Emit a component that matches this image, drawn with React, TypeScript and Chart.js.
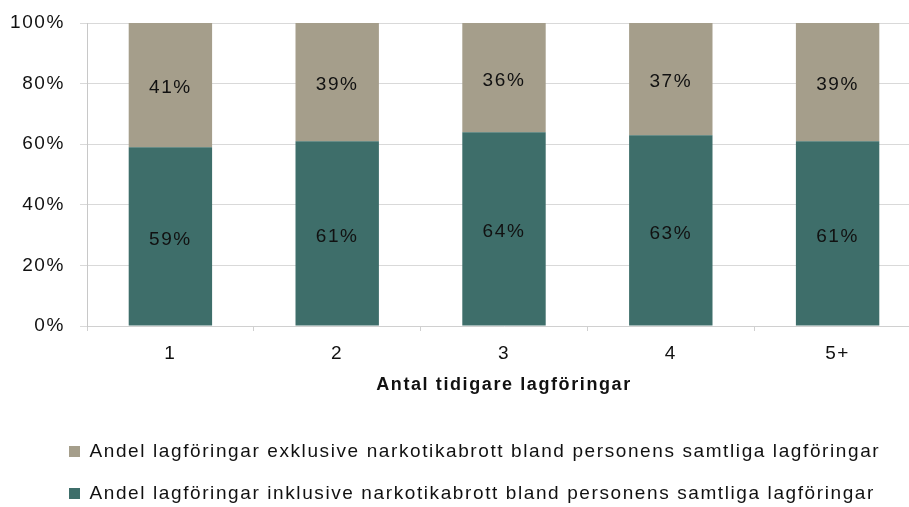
import React, { useEffect, useRef } from 'react';
import { Chart, registerables } from 'chart.js';

Chart.register(...registerables);

const categories = ['1', '2', '3', '4', '5+'];
const inklusiveValues = [59, 61, 64, 63, 61];
const exklusiveValues = [41, 39, 36, 37, 39];
const inklusiveLabel = 'Andel lagföringar inklusive narkotikabrott bland personens samtliga lagföringar';
const exklusiveLabel = 'Andel lagföringar exklusive narkotikabrott bland personens samtliga lagföringar';
const xAxisTitle = 'Antal tidigare lagföringar';

const FONT = "Arial, 'Liberation Sans', sans-serif";
const TEAL = '#3e6e6a';
const GRAY = '#a59e8b';
const TEXT = '#111111';
const SPACING = '1.6px';

const spacingPlugin = {
  id: 'letterSpacing',
  beforeUpdate(chart: any) { chart.ctx.letterSpacing = SPACING; },
  beforeLayout(chart: any) { chart.ctx.letterSpacing = SPACING; },
  afterLayout(chart: any) {
    // let the y tick labels use the space to the left of the axis box
    const y = chart.scales.y;
    if (y) y.left = 0;
  },
  beforeDraw(chart: any) { chart.ctx.letterSpacing = SPACING; },
};

const valueLabelPlugin = {
  id: 'valueLabels',
  afterDatasetsDraw(chart: any) {
    const ctx = chart.ctx;
    ctx.save();
    ctx.font = `19px ${FONT}`;
    ctx.fillStyle = TEXT;
    ctx.textAlign = 'center';
    ctx.textBaseline = 'middle';
    chart.data.datasets.forEach((ds: any, i: number) => {
      const meta = chart.getDatasetMeta(i);
      meta.data.forEach((bar: any, j: number) => {
        const p = bar.getProps(['x', 'y', 'base'], true);
        ctx.fillText(`${ds.data[j]}%`, p.x, (p.y + p.base) / 2 + 3);
      });
    });
    ctx.restore();
  },
};

export default function App() {
  const ref = useRef<HTMLCanvasElement | null>(null);

  useEffect(() => {
    if (!ref.current) return;
    const chart = new Chart(ref.current, {
      type: 'bar',
      data: {
        labels: categories,
        datasets: [
          {
            label: inklusiveLabel,
            data: inklusiveValues,
            backgroundColor: TEAL,
            borderWidth: 0,
            barPercentage: 0.5,
            categoryPercentage: 1,
          },
          {
            label: exklusiveLabel,
            data: exklusiveValues,
            backgroundColor: GRAY,
            borderWidth: 0,
            barPercentage: 0.5,
            categoryPercentage: 1,
          },
        ],
      },
      options: {
        responsive: false,
        animation: false,
        devicePixelRatio: 1,
        layout: { padding: { left: 46, right: 4, top: 20, bottom: 0 } },
        plugins: {
          tooltip: { enabled: false },
          legend: {
            position: 'bottom',
            align: 'start',
            reverse: true,
            labels: {
              boxWidth: 11,
              boxHeight: 11,
              padding: 23,
              color: TEXT,
              font: { family: FONT, size: 19 },
            },
          },
        },
        scales: {
          x: {
            stacked: true,
            afterFit: (s: any) => { s.height = 93; },
            grid: {
              display: true,
              drawOnChartArea: false,
              drawTicks: true,
              tickLength: 5,
              color: '#d0d0d0',
              offset: true,
            },
            border: { color: '#d0d0d0', width: 1 },
            ticks: { color: TEXT, font: { family: FONT, size: 19 }, padding: 11 },
            title: {
              display: true,
              text: xAxisTitle,
              color: TEXT,
              font: { family: FONT, size: 18, weight: 'bold' },
              padding: { top: 4, bottom: 23 },
            },
          },
          y: {
            stacked: true,
            min: 0,
            max: 100,
            afterFit: (s: any) => { s.width = 41; },
            grid: { color: '#d9d9d9', tickLength: 7, drawTicks: true },
            border: { color: '#c8c8c8', width: 1 },
            ticks: {
              stepSize: 20,
              color: TEXT,
              padding: 15,
              font: { family: FONT, size: 19, lineHeight: 0.85 },
              callback: (v: any) => `${v}%`,
            },
          },
        },
      },
      plugins: [spacingPlugin, valueLabelPlugin],
    } as any);
    return () => chart.destroy();
  }, []);

  return (
    <div style={{ position: 'fixed', left: 0, top: 0, width: 909, height: 507, overflow: 'hidden', background: '#fff' }}>
      <canvas ref={ref} width={925} height={513} style={{ display: 'block' }} />
    </div>
  );
}
